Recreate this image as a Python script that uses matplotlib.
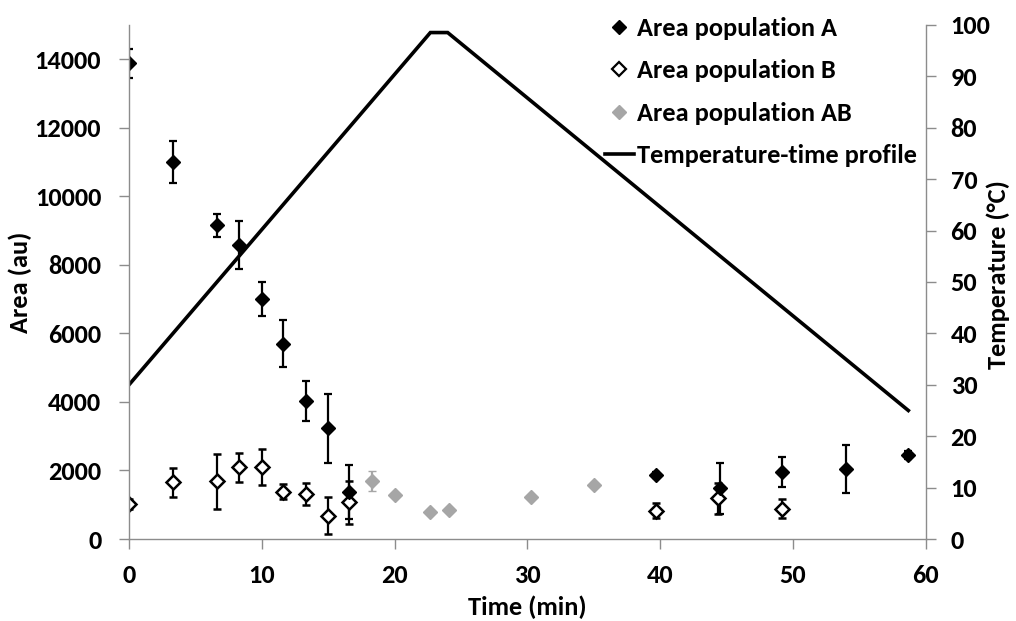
import matplotlib
matplotlib.use('Agg')
import matplotlib.pyplot as plt
from matplotlib.lines import Line2D

plt.rcParams['font.family'] = ['Carlito', 'Open Sans', 'DejaVu Sans']
plt.rcParams['font.weight'] = 'bold'

# population A (filled black diamonds)
time_a = [0, 3.3, 6.6, 8.3, 10.0, 11.6, 13.3, 15.0, 16.6, 39.7, 44.5, 49.2, 54.0, 58.7]
area_a = [13880, 11000, 9150, 8580, 7000, 5700, 4020, 3230, 1370, 1870, 1480, 1950, 2030, 2450]
err_a = [420, 600, 330, 700, 500, 690, 590, 1000, 800, 80, 750, 430, 700, 120]

# population B (open diamonds)
time_b = [0, 3.3, 6.6, 8.3, 10.0, 11.6, 13.3, 15.0, 16.6, 39.7, 44.4, 49.2]
area_b = [1020, 1650, 1680, 2090, 2110, 1380, 1310, 680, 1070, 830, 1190, 880]
err_b = [150, 410, 800, 430, 530, 220, 330, 540, 630, 230, 450, 280]

# population AB (grey diamonds)
time_ab = [18.3, 20.0, 22.7, 24.1, 30.3, 35.0]
area_ab = [1700, 1280, 780, 840, 1220, 1580]
err_ab = [290, 0, 0, 0, 0, 0]

# temperature-time profile
time_t = [0, 22.7, 24.0, 58.7]
temp_t = [30, 98.5, 98.5, 25]

grey = '#8c8c8c'
fs = 19

fig = plt.figure(figsize=(10.16, 6.21), dpi=100)
ax = fig.add_axes([0.127, 0.132, 0.784, 0.828])
ax2 = ax.twinx()
ax.set_zorder(ax2.get_zorder() + 1)
ax.patch.set_visible(False)

ax2.plot(time_t, temp_t, color='black', lw=2.6, solid_joinstyle='miter')

ax.errorbar(time_b, area_b, yerr=err_b, fmt='D', ms=7.3, mfc='white', mec='black',
            mew=1.8, ecolor='black', elinewidth=1.6, capsize=3, capthick=1.6)
ax.errorbar(time_ab, area_ab, yerr=err_ab, fmt='D', ms=7.3, mfc='#a6a6a6', mec='#a6a6a6',
            mew=1, ecolor='#a6a6a6', elinewidth=1.6, capsize=3, capthick=1.6)
ax.errorbar(time_a, area_a, yerr=err_a, fmt='D', ms=7.5, mfc='black', mec='black',
            ecolor='black', elinewidth=1.6, capsize=3, capthick=1.6)

ax.set_xlim(0, 60)
ax.set_ylim(0, 15000)
ax2.set_ylim(0, 100)
ax.set_xticks(range(0, 61, 10))
ax.set_yticks(range(0, 14001, 2000))
ax2.set_yticks(range(0, 101, 10))

for a in (ax, ax2):
    a.spines['top'].set_visible(False)
    for s in ('left', 'right', 'bottom'):
        a.spines[s].set_color(grey)
        a.spines[s].set_linewidth(1)
ax.spines['right'].set_visible(False)
ax2.spines['left'].set_visible(False)
ax2.spines['bottom'].set_visible(False)

ax.tick_params(axis='y', length=7, width=1, color=grey, pad=13, labelsize=fs)
ax.tick_params(axis='x', length=7, width=1, color=grey, pad=11, labelsize=fs)
ax2.tick_params(axis='y', length=7, width=1, color=grey, pad=11, labelsize=fs)
for lab in ax.get_xticklabels() + ax.get_yticklabels() + ax2.get_yticklabels():
    lab.set_fontweight('bold')

ax.set_xlabel('Time (min)', fontsize=fs, fontweight='bold', labelpad=6)
ax.set_ylabel('Area (au)', fontsize=fs, fontweight='bold', labelpad=2)
ax2.set_ylabel('Temperature (°C)', fontsize=fs, fontweight='bold')
ax2.yaxis.set_label_coords(1.076, 0.515)

handles = [
    Line2D([], [], ls='none', marker='D', ms=7.5, mfc='black', mec='black'),
    Line2D([], [], ls='none', marker='D', ms=7, mfc='white', mec='black', mew=1.6),
    Line2D([], [], ls='none', marker='D', ms=7.5, mfc='#a6a6a6', mec='#a6a6a6'),
    Line2D([], [], color='black', lw=2.6),
]
labels = ['Area population A', 'Area population B', 'Area population AB',
          'Temperature-time profile']
fig.legend(handles, labels, loc='upper left', bbox_to_anchor=(0.585, 0.99),
           frameon=False, fontsize=fs, handlelength=1.1, handletextpad=0.12,
           labelspacing=0.74, borderaxespad=0)

fig.savefig('out.png', dpi=100)
